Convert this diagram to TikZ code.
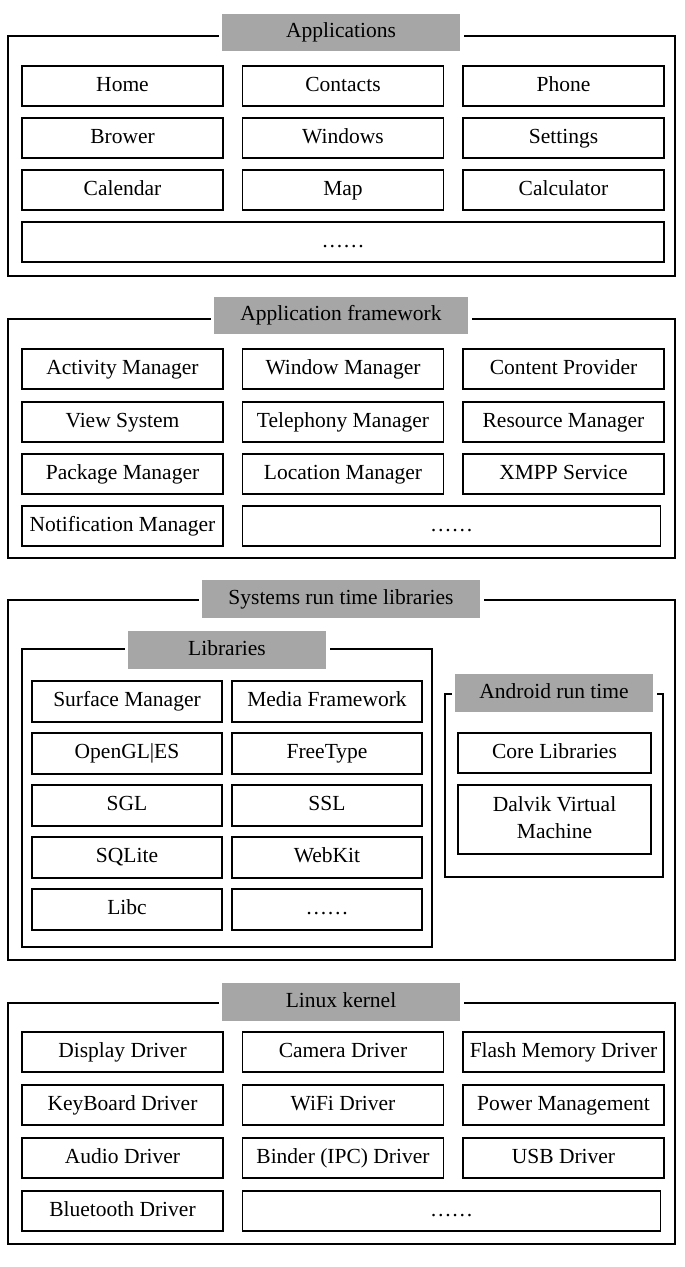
\documentclass[tikz,border=0pt]{standalone}
\usepackage{fontspec}
\setmainfont{Liberation Serif}
\usepackage{tikz}
\usetikzlibrary{positioning}
\definecolor{titlegray}{RGB}{166,166,166}
\tikzset{
    frame/.style = {rectangle, draw, line width=1.6pt, anchor=north west, inner sep=0pt, outer sep=0pt},
    title/.style = {rectangle, fill=titlegray, preaction={draw=white, line width=7pt}, inner sep=0pt, outer sep=0pt, text height=14pt, text depth=4pt, font=\fontsize{21.5}{27}\selectfont},
    item/.style = {rectangle, draw, line width=1.6pt, minimum width=201pt, minimum height=40pt, inner sep=0pt, outer sep=0pt, align=center, text height=14pt, text depth=4pt, font=\fontsize{21.5}{27}\selectfont},
    libitem/.style = {item, minimum width=190pt, minimum height=41pt}
}

\begin{document}
\begin{tikzpicture}[x=1pt, y=-1pt, node distance=12pt and 19.5pt]
\useasboundingbox (0,0) rectangle (685,1267);

% Applications
\node (appframe) [frame, minimum width=667pt, minimum height=240pt] at (8,36) {};
\node (apptitle) [title, minimum width=238pt, minimum height=37pt] at (341,32.5) {Applications};
\node (home) [item, anchor=north west] at (22,66) {Home};
\node (contacts) [item, right=of home] {Contacts};
\node (phone) [item, right=of contacts] {Phone};
\node (brower) [item, below=of home] {Brower};
\node (windows) [item, right=of brower] {Windows};
\node (settings) [item, right=of windows] {Settings};
\node (calendar) [item, below=of brower] {Calendar};
\node (map) [item, right=of calendar] {Map};
\node (calculator) [item, right=of map] {Calculator};
\node (appmore) [item, minimum width=642pt, below=12pt of calendar.south west, anchor=north west] {……};

% Application framework
\node (fwframe) [frame, minimum width=667pt, minimum height=239pt] at (8,319) {};
\node (fwtitle) [title, minimum width=254pt, minimum height=37pt] at (341,315.5) {Application framework};
\node (activity) [item, anchor=north west] at (22,349) {Activity Manager};
\node (window) [item, right=of activity] {Window Manager};
\node (content) [item, right=of window] {Content Provider};
\node (view) [item, below=13pt of activity] {View System};
\node (telephony) [item, right=of view] {Telephony Manager};
\node (resource) [item, right=of telephony] {Resource Manager};
\node (package) [item, below=of view] {Package Manager};
\node (location) [item, right=of package] {Location Manager};
\node (xmpp) [item, right=of location] {XMPP Service};
\node (notification) [item, below=of package] {Notification Manager};
\node (fwmore) [item, minimum width=418pt, right=of notification] {……};

% Systems run time libraries
\node (sysframe) [frame, minimum width=667pt, minimum height=360pt] at (8,600) {};
\node (systitle) [title, minimum width=278pt, minimum height=38pt] at (341,599) {Systems run time libraries};
\node (libframe) [frame, minimum width=410pt, minimum height=298pt] at (22,649) {};
\node (libtitle) [title, minimum width=198pt, minimum height=38pt] at (227,650) {Libraries};
\node (surface) [libitem, anchor=north west] at (32,681) {Surface Manager};
\node (media) [libitem, right=10pt of surface] {Media Framework};
\node (opengl) [libitem, below=11pt of surface] {OpenGL|ES};
\node (freetype) [libitem, right=10pt of opengl] {FreeType};
\node (sgl) [libitem, below=11pt of opengl] {SGL};
\node (ssl) [libitem, right=10pt of sgl] {SSL};
\node (sqlite) [libitem, below=11pt of sgl] {SQLite};
\node (webkit) [libitem, right=10pt of sqlite] {WebKit};
\node (libc) [libitem, below=11pt of sqlite] {Libc};
\node (libmore) [libitem, right=10pt of libc] {……};
\node (artframe) [frame, minimum width=218pt, minimum height=183pt] at (445,694) {};
\node (arttitle) [title, minimum width=198pt, minimum height=38pt] at (554,693) {Android run time};
\node (core) [item, minimum width=193pt, anchor=north west] at (458,733) {Core Libraries};
\node (dalvik) [item, minimum width=193pt, minimum height=69pt, text height=41pt, below=of core] {Dalvik Virtual\\Machine};

% Linux kernel
\node (kernframe) [frame, minimum width=667pt, minimum height=241pt] at (8,1003) {};
\node (kerntitle) [title, minimum width=238pt, minimum height=38pt] at (341,1002) {Linux kernel};
\node (display) [item, anchor=north west] at (22,1032) {Display Driver};
\node (camera) [item, right=of display] {Camera Driver};
\node (flash) [item, right=of camera] {Flash Memory Driver};
\node (keyboard) [item, below=13pt of display] {KeyBoard Driver};
\node (wifi) [item, right=of keyboard] {WiFi Driver};
\node (power) [item, right=of wifi] {Power Management};
\node (audio) [item, below=13pt of keyboard] {Audio Driver};
\node (binder) [item, right=of audio] {Binder (IPC) Driver};
\node (usb) [item, right=of binder] {USB Driver};
\node (bluetooth) [item, below=13pt of audio] {Bluetooth Driver};
\node (kernmore) [item, minimum width=418pt, right=of bluetooth] {……};
\end{tikzpicture}
\end{document}
